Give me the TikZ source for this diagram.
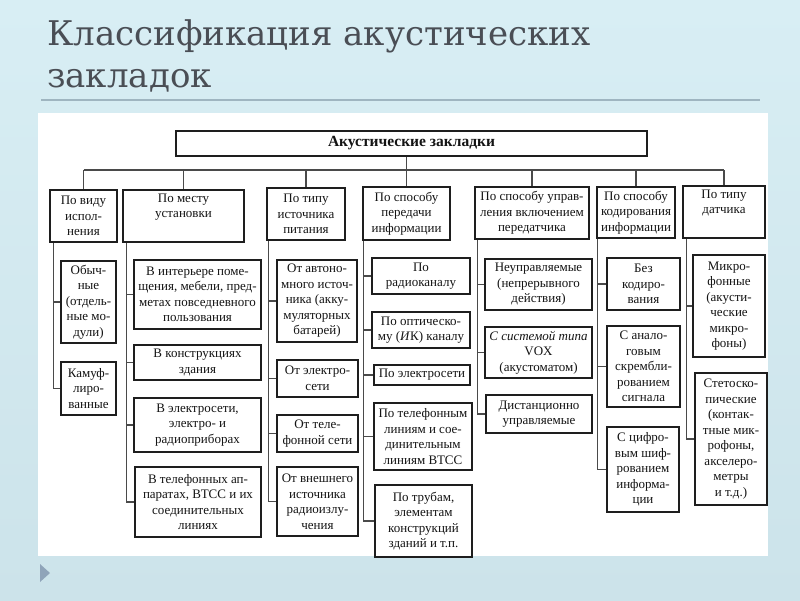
\documentclass[tikz,border=0pt]{standalone}
\usepackage{fontspec}
\setmainfont{Liberation Serif}
\newfontfamily\titlefont{DejaVu Serif}
\definecolor{bgtop}{HTML}{D8EEF4}
\definecolor{bgbot}{HTML}{CCE3EA}
\definecolor{titlec}{HTML}{4A4E55}
\definecolor{rulec}{HTML}{9FB5C0}
\definecolor{boxc}{HTML}{1E1E1E}
\definecolor{linec}{HTML}{4A4A4A}
\definecolor{txtc}{HTML}{141414}
\definecolor{iconc}{HTML}{8FA4B9}
\newcommand\bx[6]{\node[box,minimum width={(#4-#2)*1pt},minimum height={(#5-#3)*1pt}] (#1) at ({(#2+#4)/2},{(#3+#5)/2}) {#6};}
\begin{document}
\begin{tikzpicture}[x=1pt,y=-1pt,
  box/.style={draw=boxc,line width=1.7pt,align=center,inner sep=0pt,text=txtc,font=\fontsize{13}{15.5}\selectfont},
  conn/.style={draw=linec,line width=1.1pt},
  ttl/.style={anchor=base west,inner sep=0pt,text=titlec,font=\titlefont\fontsize{34}{40}\selectfont}]
\useasboundingbox (0,0) rectangle (800,600);
\shade[top color=bgtop,bottom color=bgbot] (0,0) rectangle (800,600);
% title
\node[ttl] (t1) at (47,45) {Классификация акустических};
\node[ttl] (t2) at (47,87) {закладок};
\draw[rulec,line width=1.2pt] (41,100) -- (760,100);
% panel
\fill[white] (38,113) rectangle (768,556);
% icon
\fill[iconc] (40,564) -- (50,573) -- (40,582) -- cycle;
% root
\node[box,minimum width=471pt,minimum height=25pt,font=\bfseries\fontsize{15.5}{18}\selectfont] (root) at (411.5,143.5) {Акустические закладки};
% headers
\bx{H1}{50}{190}{117}{242}{По виду\\испол-\\нения}
\bx{H2}{123}{190}{244}{242}{По месту\\установки\\\strut}
\bx{H3}{267}{188}{345}{240}{По типу\\источника\\питания}
\bx{H4}{363}{187}{450}{240}{По способу\\передачи\\информации}
\bx{H5}{475}{187}{589}{239}{По способу управ-\\ления включением\\передатчика}
\bx{H6}{597}{187}{675}{238}{По способу\\кодирования\\информации}
\bx{H7}{683}{186}{765}{238}{По типу\\датчика\\\strut}
% column 1
\bx{A1}{61}{261}{116}{343}{Обыч-\\ные\\(отдель-\\ные мо-\\дули)}
\bx{A2}{61}{362}{116}{415}{Камуф-\\лиро-\\ванные}
% column 2
\bx{B1}{134}{260}{261}{329}{В интерьере поме-\\щения, мебели, пред-\\метах повседневного\\пользования}
\bx{B2}{134}{345}{261}{380}{В конструкциях\\здания}
\bx{B3}{134}{398}{261}{452}{В электросети,\\электро- и\\радиоприборах}
\bx{B4}{135}{467}{261}{537}{В телефонных ап-\\паратах, ВТСС и их\\соединительных\\линиях}
% column 3
\bx{D1}{277}{260}{357}{342}{От автоно-\\много источ-\\ника (акку-\\муляторных\\батарей)}
\bx{D2}{277}{360}{358}{397}{От электро-\\сети}
\bx{D3}{277}{415}{358}{452}{От теле-\\фонной сети}
\bx{D4}{277}{467}{358}{536}{От внешнего\\источника\\радиоизлу-\\чения}
% column 4
\bx{E1}{372}{258}{470}{294}{По\\радиоканалу}
\bx{E2}{372}{312}{470}{348}{По оптическо-\\му (\textit{И}К) каналу}
\bx{E3}{374}{365}{470}{385}{По электросети}
\bx{E4}{374}{403}{472}{470}{По телефонным\\линиям и сое-\\динительным\\линиям ВТСС}
\bx{E5}{375}{485}{472}{557}{По трубам,\\элементам\\конструкций\\зданий и т.п.}
% column 5
\bx{F1}{485}{259}{592}{310}{Неуправляемые\\(непрерывного\\действия)}
\bx{F2}{485}{327}{592}{378}{\textit{С системой типа}\\VOX\\(акустоматом)}
\bx{F3}{486}{395}{592}{433}{Дистанционно\\управляемые}
% column 6
\bx{G1}{607}{258}{680}{310}{Без\\кодиро-\\вания}
\bx{G2}{607}{326}{680}{407}{С анало-\\говым\\скрембли-\\рованием\\сигнала}
\bx{G3}{607}{427}{679}{512}{С цифро-\\вым шиф-\\рованием\\информа-\\ции}
% column 7
\bx{K1}{693}{255}{765}{357}{Микро-\\фонные\\(акусти-\\ческие\\микро-\\фоны)}
\bx{K2}{695}{373}{767}{505}{Стетоско-\\пические\\(контак-\\тные мик-\\рофоны,\\акселеро-\\метры\\и т.д.)}
% top connectors
\coordinate (busy) at (0,170);
\draw[conn] (H1.north |- busy) -- (H7.north |- busy);
\draw[conn] (H4.north |- root.south) -- (H4.north);
\foreach \h in {H1,H2,H3,H5,H6,H7} \draw[conn] (\h.north |- busy) -- (\h.north);
% spines
\coordinate (s1) at ([xshift=4pt]H1.south west);
\coordinate (s2) at ([xshift=4pt]H2.south west);
\coordinate (s3) at ([xshift=2pt]H3.south west);
\coordinate (s4) at ([xshift=1pt]H4.south west);
\coordinate (s5) at ([xshift=3pt]H5.south west);
\coordinate (s6) at ([xshift=1pt]H6.south west);
\coordinate (s7) at ([xshift=4pt]H7.south west);
\draw[conn] (s1) |- (A2.west);
\draw[conn] (A1.west -| s1) -- (A1.west);
\draw[conn] (s2) |- (B4.west);
\foreach \c in {B1,B2,B3} \draw[conn] (\c.west -| s2) -- (\c.west);
\draw[conn] (s3) |- (D4.west);
\foreach \c in {D1,D2,D3} \draw[conn] (\c.west -| s3) -- (\c.west);
\draw[conn] (s4) |- (E5.west);
\foreach \c in {E1,E2,E3,E4} \draw[conn] (\c.west -| s4) -- (\c.west);
\draw[conn] (s5) |- (F3.west);
\foreach \c in {F1,F2} \draw[conn] (\c.west -| s5) -- (\c.west);
\draw[conn] (s6) |- (G3.west);
\foreach \c in {G1,G2} \draw[conn] (\c.west -| s6) -- (\c.west);
\draw[conn] (s7) |- (K2.west);
\draw[conn] (K1.west -| s7) -- (K1.west);
\end{tikzpicture}
\end{document}
